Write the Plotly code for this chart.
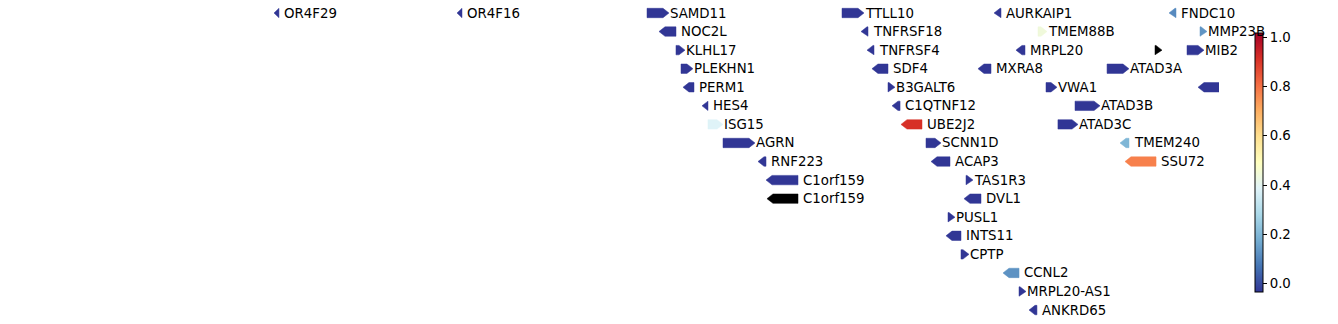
import math
import plotly.graph_objects as go
from plotly.colors import sample_colorscale

# ---------------- data ----------------
gene_names = ["OR4F29", "OR4F16", "SAMD11", "NOC2L", "KLHL17", "PLEKHN1", "PERM1", "HES4",
              "ISG15", "AGRN", "RNF223", "C1orf159", "C1orf159", "TTLL10", "TNFRSF18",
              "TNFRSF4", "SDF4", "B3GALT6", "C1QTNF12", "UBE2J2", "SCNN1D", "ACAP3",
              "TAS1R3", "DVL1", "PUSL1", "INTS11", "CPTP", "CCNL2", "MRPL20-AS1", "ANKRD65",
              "AURKAIP1", "MXRA8", "TMEM88B", "MRPL20", "VWA1", "ATAD3B", "ATAD3C", "ATAD3A",
              "TMEM240", "SSU72", "FNDC10", "MMP23B", "", "MIB2", ""]
gene_start = [448400, 681100, 922700, 937900, 959500, 965900, 968400, 992600,
              1000200, 1019300, 1063800, 1074000, 1075200, 1170600, 1194800,
              1202400, 1208700, 1229100, 1234200, 1245600, 1277400, 1283800,
              1328300, 1325700, 1305400, 1302800, 1321900, 1375300, 1395700, 1408400,
              1363900, 1343500, 1419800, 1391800, 1430000, 1466900, 1445200, 1507600,
              1524100, 1530400, 1586400, 1625800, 1568600, 1609300, 1623300]
gene_end = [454700, 687400, 950600, 959500, 971000, 981100, 982400, 1000200,
            1019300, 1060000, 1074000, 1114700, 1114700, 1198600, 1203700,
            1211300, 1229100, 1238000, 1244400, 1272300, 1296500, 1307900,
            1337200, 1347300, 1314300, 1321900, 1332100, 1395700, 1404600, 1418500,
            1372800, 1360100, 1431300, 1403300, 1444000, 1498700, 1470700, 1535500,
            1535500, 1569900, 1595300, 1634700, 1577500, 1630900, 1700000]
gene_strand = ["-", "-", "+", "-", "+", "+", "-", "-",
               "+", "+", "-", "-", "-", "+", "-",
               "-", "-", "+", "-", "-", "+", "-",
               "+", "-", "+", "-", "+", "-", "+", "-",
               "-", "-", "+", "-", "+", "+", "+", "+",
               "-", "-", "-", "+", "+", "+", "-"]
gene_row = [0, 0, 0, 1, 2, 3, 4, 5,
            6, 7, 8, 9, 10, 0, 1,
            2, 3, 4, 5, 6, 7, 8,
            9, 10, 11, 12, 13, 14, 15, 16,
            0, 3, 1, 2, 4, 5, 6, 3,
            7, 8, 0, 1, 2, 2, 4]
nan = float("nan")
lo = -0.035
gene_value = [lo, lo, lo, lo, lo, lo, lo, lo,
              0.385, lo, lo, lo, nan, lo, lo,
              lo, lo, lo, lo, 0.913, lo, lo,
              lo, lo, lo, lo, lo, 0.125, lo, lo,
              lo, lo, 0.44, lo, lo, lo, lo, lo,
              0.197, 0.776, 0.11, 0.13, nan, lo, lo]

cbar_ticks = [0.0, 0.2, 0.4, 0.6, 0.8, 1.0]
cbar_ticktext = ["0.0", "0.2", "0.4", "0.6", "0.8", "1.0"]
cmin, cmax = -0.035, 1.018

rdylbu_r = ["#313695", "#4575b4", "#74add1", "#abd9e9", "#e0f3f8", "#ffffbf",
            "#fee090", "#fdae61", "#f46d43", "#d73027", "#a50026"]
colorscale = [[i / (len(rdylbu_r) - 1), c] for i, c in enumerate(rdylbu_r)]

# ---------------- layout geometry ----------------
W, H = 1338, 324
margin_r = 119
plot_w = W - margin_r
x0 = 100000
bp_per_px = 1271.5
x1 = x0 + plot_w * bp_per_px
y_top, y_bot = -0.70, 16.75
px_per_row = H / (y_bot - y_top)

head = 6 * bp_per_px
hh = 4.7 / px_per_row

FONT = "DejaVu Sans"
FS = 13.33

fig = go.Figure()
annotations = []

for name, s, e, st, r, v in zip(gene_names, gene_start, gene_end, gene_strand, gene_row, gene_value):
    if v is None or (isinstance(v, float) and math.isnan(v)):
        col = "#000000"
    else:
        frac = min(max((v - cmin) / (cmax - cmin), 0), 1)
        col = sample_colorscale(colorscale, [frac])[0]
    if st == "+":
        b = max(s, e - head)
        xs = [s, b, e, b, s, s]
    else:
        b = min(e, s + head)
        xs = [e, b, s, b, e, e]
    ys = [r - hh, r - hh, r, r + hh, r + hh, r - hh]
    fig.add_trace(go.Scatter(x=xs, y=ys, mode="lines", fill="toself", fillcolor=col,
                             line=dict(color=col, width=0.5), hoverinfo="skip",
                             showlegend=False))
    if name:
        annotations.append(dict(x=e, y=r, xref="x", yref="y", text=name, showarrow=False,
                                xanchor="left", yanchor="middle",
                                xshift=(-1 if st == "+" else 3), yshift=0,
                                font=dict(family=FONT, size=FS, color="black")))

# colorbar carrier
fig.add_trace(go.Scatter(x=[gene_start[0]], y=[gene_row[0]], mode="markers",
                         marker=dict(size=0.1, color=[0.0], colorscale=colorscale,
                                     cmin=cmin, cmax=cmax, showscale=True, opacity=0,
                                     colorbar=dict(
                                         x=1255 / plot_w, xanchor="left", xpad=0,
                                         y=(H - 162.5) / H, yanchor="middle", ypad=0,
                                         len=259, lenmode="pixels",
                                         thickness=8, thicknessmode="pixels",
                                         outlinewidth=1, outlinecolor="black",
                                         ticks="outside", ticklen=4, tickwidth=1,
                                         tickcolor="black",
                                         tickvals=cbar_ticks, ticktext=cbar_ticktext,
                                         tickfont=dict(family=FONT, size=FS, color="black"))),
                         hoverinfo="skip", showlegend=False))

fig.update_layout(
    width=W, height=H,
    margin=dict(l=0, r=margin_r, t=0, b=0, pad=0),
    paper_bgcolor="white", plot_bgcolor="white",
    xaxis=dict(range=[x0, x1], visible=False),
    yaxis=dict(range=[y_bot, y_top], visible=False),
    annotations=annotations,
    showlegend=False,
)

fig.write_html("out.html")
